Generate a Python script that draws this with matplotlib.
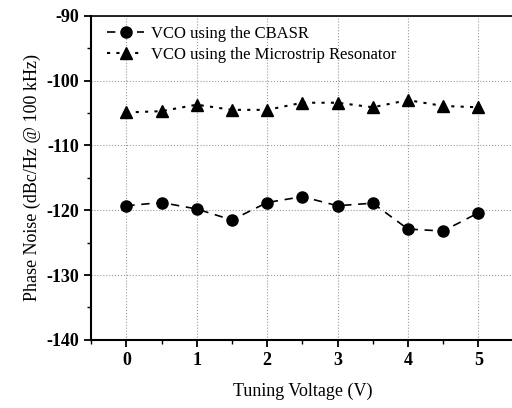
import numpy as np
import matplotlib
matplotlib.use("Agg")
import matplotlib.pyplot as plt
from matplotlib.ticker import MultipleLocator

voltage = [0, 0.5, 1, 1.5, 2, 2.5, 3, 3.5, 4, 4.5, 5]
cbasr = [-119.3, -118.8, -119.8, -121.5, -118.8, -117.9, -119.3, -118.9, -122.9, -123.2, -120.4]
microstrip = [-104.9, -104.7, -103.7, -104.5, -104.5, -103.4, -103.4, -104.1, -103.0, -103.9, -104.1]

plt.rcParams['font.family'] = ['Liberation Serif', 'DejaVu Serif']
plt.rcParams['axes.unicode_minus'] = False

fig = plt.figure(figsize=(5.12, 4.08), dpi=100)
ax = fig.add_axes([0.178, 0.167, 0.825, 0.794])

ax.plot(voltage, cbasr, linestyle=(0, (5, 4)), color='black', marker='o',
        markersize=8, linewidth=1.2, label='VCO using the CBASR')
ax.plot(voltage, microstrip, linestyle=(0, (1.5, 3)), color='black', marker='^',
        markersize=8, linewidth=1.5, label='VCO using the Microstrip Resonator')

ax.set_xlim(-0.5, 5.5)
ax.set_ylim(-140, -90)
ax.xaxis.set_major_locator(MultipleLocator(1))
ax.xaxis.set_minor_locator(MultipleLocator(0.5))
ax.yaxis.set_major_locator(MultipleLocator(10))
ax.yaxis.set_minor_locator(MultipleLocator(5))
ax.grid(True, which='major', linestyle=':', color='#999999', linewidth=0.8)

for s in ax.spines.values():
    s.set_linewidth(1.5)
ax.spines['right'].set_visible(False)
ax.spines['top'].set_linewidth(1.2)
ax.tick_params(which='major', direction='out', length=5, width=1.3, labelsize=13)
ax.tick_params(which='minor', direction='out', length=3, width=1.0)
for lbl in ax.get_xticklabels() + ax.get_yticklabels():
    lbl.set_fontweight('bold')

ax.set_xlabel('Tuning Voltage (V)', fontsize=13, labelpad=10)
ax.set_ylabel('Phase Noise (dBc/Hz @ 100 kHz)', fontsize=13, labelpad=4)

ax.legend(loc='upper left', frameon=False, fontsize=12, handlelength=2.2,
          borderaxespad=0.2, labelspacing=0.3, handletextpad=0.4,
          bbox_to_anchor=(0.015, 1.0))

fig.savefig('out.png', dpi=100)
